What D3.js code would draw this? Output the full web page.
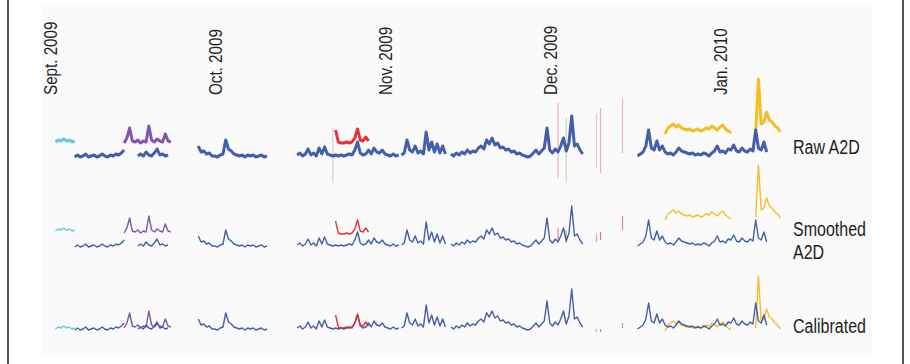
<!DOCTYPE html>
<html>
<head>
<meta charset="utf-8">
<script src="https://cdn.jsdelivr.net/npm/d3@7"></script>
<style>
  body { margin: 0; background: #fff; }
  text { font-family: "Liberation Sans", Arial, sans-serif; fill: #231f20; }
</style>
</head>
<body>
<svg id="chart" width="910" height="364"></svg>
<script>
// month ticks along the top
const monthTicks = ['2009-09-01', '2009-10-01', '2009-11-01', '2009-12-01', '2010-01-01'];
const monthLabels = ['Sept. 2009', 'Oct. 2009', 'Nov. 2009', 'Dec. 2009', 'Jan. 2010'];

// the three processing stages, one row each
const rowLabels = [['Raw A2D'], ['Smoothed', 'A2D'], ['Calibrated']];

// sensors and their offset from the reference sensor in each row
const sensorNames = ['cyan', 'yellow', 'blue', 'purple', 'red'];
const sensorColors = ['#5cc6d6', '#f6b918', '#3a55a6', '#7b4cae', '#e8262b'];
const rawOffset = [14, 24, 0, 12, 12];
const smoothOffset = [15, 28, 0, 12, 11];
const calibOffset = [0, 0, 0, 0, 0];

// readings every 12 hours, starting at the given time
const cyanSept = [2, 4, 3, 5, 3, 4, 2, 3];
const blueSeptA = [1, 3, 1, 2, 4, 1, 2, 3, 1, 2, 4, 2, 1, 3, 2, 4, 3, 5, 8];
const blueSeptB = [2, 4, 2, 6, 3, 2, 5, 9, 3, 4, 2, 3];
const purpleSept = [3, 8, 18, 5, 4, 6, 3, 5, 4, 20, 6, 4, 7, 5, 4, 12, 5, 4];
const blueOct = [12, 6, 7, 4, 5, 2, 2, 1, 3, 4, 18, 9, 7, 4, 3, 2, 3, 1, 3, 2, 3, 1, 2, 3, 1, 2];
const blueNovA = [3, 5, 2, 4, 9, 3, 5, 2, 10, 4, 11, 4, 3, 2, 3, 2, 3, 2, 3, 4, 3, 8, 16, 5, 3, 4, 8, 4, 10, 6, 5, 8, 4, 3, 2, 4, 2, 3];
const redNov = [16, 4, 3, 3, 4, 3, 4, 8, 17, 6, 5, 9, 5];
const blueNovB = [3, 5, 18, 8, 6, 12, 5, 7, 4, 26, 8, 16, 6, 14, 5, 12, 4];
const blueNovC = [4, 2, 5, 3, 6, 4, 8, 5, 7, 6, 10, 12, 9, 18, 14, 20, 13, 15, 10, 11, 8, 9, 6, 7, 4, 5, 3, 2, 1, 2,
                  5, 8, 4, 7, 10, 30, 8, 5, 9, 6, 12, 20, 7, 15, 42, 12, 14, 8, 4];
const blueJan = [2, 4, 6, 12, 28, 10, 8, 17, 8, 12, 6, 4, 5, 3, 6, 10, 7, 6, 5, 4, 5, 3, 4, 3, 5, 4, 2, 5, 7, 12,
                 6, 7, 5, 9, 8, 13, 7, 6, 10, 7, 6, 9, 7, 28, 10, 8, 16, 6];
const yellowJanA = [0, 6, 8, 10, 7, 9, 6, 5, 4, 5, 3, 4, 5, 3, 4, 6, 5, 8, 6, 4, 7, 9, 5, 3, 1];
const yellowJanB = [3, 55, 10, 12, 22, 14, 12, 8, 6, 2];

const segments = [
  { sensor: 'cyan', start: '2009-09-02T00:00', values: cyanSept },
  { sensor: 'yellow', start: '2009-12-22T00:00', values: yellowJanA },
  { sensor: 'yellow', start: '2010-01-07T12:00', values: yellowJanB },
  { sensor: 'blue', start: '2009-09-05T12:00', values: blueSeptA },
  { sensor: 'blue', start: '2009-09-17T00:00', values: blueSeptB },
  { sensor: 'blue', start: '2009-09-28T00:00', values: blueOct },
  { sensor: 'blue', start: '2009-10-16T00:00', values: blueNovA },
  { sensor: 'blue', start: '2009-11-04T00:00', values: blueNovB },
  { sensor: 'blue', start: '2009-11-13T00:00', values: blueNovC },
  { sensor: 'blue', start: '2009-12-17T00:00', values: blueJan },
  { sensor: 'purple', start: '2009-09-14T12:00', values: purpleSept },
  { sensor: 'red', start: '2009-10-23T00:00', values: redNov }
];

// stray readings from other sensors in December (low, high per row)
const strayDates = ['2009-10-22T12:00', '2009-12-02T12:00', '2009-12-04T00:00', '2009-12-09T12:00', '2009-12-10T06:00', '2009-12-14T06:00'];
const strayColors = ['#9aa3b8', '#e0607a', '#7fbf5a', '#b0a8a0', '#d0607a', '#d0708a'];
const strayRaw = [[-25, 30], [-20, 55], [-25, 40], [-10, 45], [-15, 50], [5, 60]];
const straySmooth = [null, [8, 20], [5, 18], [6, 14], [8, 16], [18, 32]];
const strayCalib = [null, null, null, [-1, 2], [-1, 2], [3, 8]];

const svg = d3.select('#chart');
const W = 910, H = 364;

// background and side frame lines
svg.append('rect').attr('x', 42).attr('y', 4).attr('width', 830).attr('height', 352).attr('fill', '#fafafb');
svg.append('line').attr('x1', 8).attr('x2', 8).attr('y1', 0).attr('y2', H).attr('stroke', '#555').attr('stroke-width', 2);
svg.append('line').attr('x1', 903).attr('x2', 903).attr('y1', 0).attr('y2', H).attr('stroke', '#555').attr('stroke-width', 2);

const parse = d3.isoParse;
const x = d3.scaleTime()
  .domain([parse('2009-09-01T00:00'), parse('2010-01-01T00:00')])
  .range([50, 720]);

// month labels, rotated and squeezed to look condensed
svg.append('g').selectAll('text')
  .data(monthTicks)
  .join('text')
  .attr('transform', (d) => 'translate(' + (x(parse(d)) + 7) + ',95) rotate(-90) scale(0.8,1)')
  .attr('text-anchor', 'start')
  .style('font-size', '19px')
  .text((d, i) => monthLabels[i]);

const rows = [
  { base: 158, offset: rawOffset, width: 3, stray: strayRaw },
  { base: 248, offset: smoothOffset, width: 1.4, stray: straySmooth },
  { base: 331, offset: calibOffset, width: 1.4, stray: strayCalib }
];

rows.forEach((row, ri) => {
  const y = d3.scaleLinear().domain([0, 100]).range([row.base, row.base - 100]);
  const g = svg.append('g').attr('class', 'row');

  // stray readings first, faint
  g.selectAll('line.stray')
    .data(strayDates.map((d, i) => ({ t: parse(d), r: row.stray[i], c: strayColors[i] })).filter((d) => d.r))
    .join('line')
    .attr('class', 'stray')
    .attr('x1', (d) => x(d.t)).attr('x2', (d) => x(d.t))
    .attr('y1', (d) => y(d.r[0])).attr('y2', (d) => y(d.r[1]))
    .attr('stroke', (d) => d.c)
    .attr('stroke-width', 1.2)
    .attr('opacity', ri === 0 ? 0.45 : 0.8);

  const line = d3.line()
    .x((d) => x(d.t))
    .y((d) => y(d.v));

  segments.forEach((s) => {
    const si = sensorNames.indexOf(s.sensor);
    const t0 = parse(s.start);
    const pts = s.values.map((v, k) => ({ t: d3.timeHour.offset(t0, 12 * k), v: v + row.offset[si] }));
    g.append('path')
      .datum(pts)
      .attr('d', line)
      .attr('fill', 'none')
      .attr('stroke', sensorColors[si])
      .attr('stroke-width', row.width)
      .attr('stroke-linejoin', 'round')
      .attr('opacity', 0.95);
  });

  // row label on the right
  const lab = rowLabels[ri];
  const ly = [154, 236, 333][ri];
  g.selectAll('text')
    .data(lab)
    .join('text')
    .attr('transform', (d, i) => 'translate(793,' + (ly + i * 23) + ') scale(0.8,1)')
    .style('font-size', '20px')
    .text((d) => d);
});
</script>
</body>
</html>
